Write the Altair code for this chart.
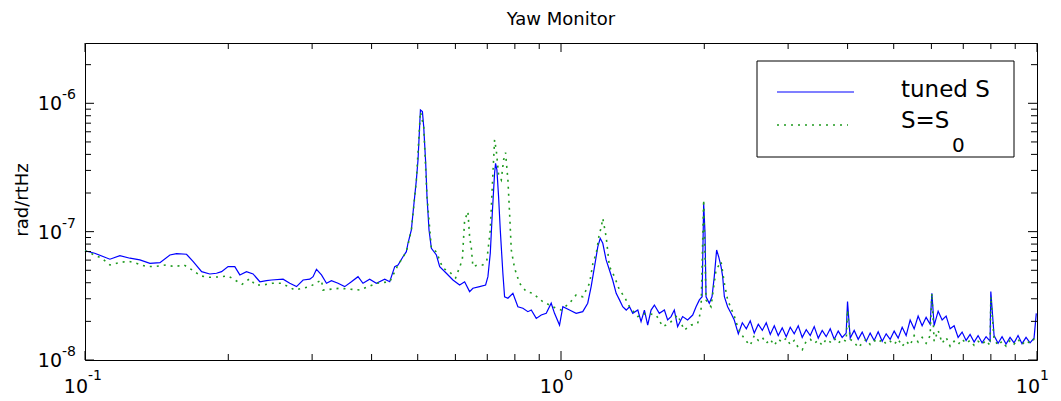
import altair as alt
import pandas as pd

# ---------------- data (values in units of 1e-8 rad/rtHz) ----------------
UNIT = 1e-8

blue_f = [0.1, 0.1048, 0.1128, 0.1184, 0.1243, 0.1304, 0.1369, 0.1437, 0.1508, 0.1557,
          0.1634, 0.1688, 0.1758, 0.1829, 0.1889, 0.1936, 0.1998, 0.2064, 0.2115, 0.2184,
          0.2255, 0.2330, 0.2406, 0.2465, 0.2607, 0.2693, 0.2782, 0.2872, 0.2967, 0.3014,
          0.3064, 0.3139, 0.3216, 0.3294, 0.3401, 0.3512, 0.3628, 0.3746, 0.3837, 0.3963,
          0.4094, 0.4262, 0.4367, 0.4474, 0.4546, 0.4656, 0.4733, 0.4770, 0.4849, 0.4887,
          0.4968, 0.5007, 0.5066, 0.5115, 0.5147, 0.5197, 0.5230, 0.5281, 0.5342, 0.5473,
          0.5561, 0.5743, 0.5929, 0.6124, 0.6274, 0.6427, 0.6530, 0.6745, 0.6944, 0.7022,
          0.7103, 0.7172, 0.7252, 0.7287, 0.7334, 0.7394, 0.7455, 0.7549, 0.7612, 0.7735,
          0.7924, 0.8118, 0.8317, 0.8520, 0.8661, 0.8872, 0.9089, 0.9311, 0.9537, 0.9692,
          0.9929, 1.009, 1.042, 1.076, 1.111, 1.138, 1.157, 1.176, 1.195, 1.209,
          1.224, 1.244, 1.264, 1.284, 1.306, 1.327, 1.348, 1.371, 1.393, 1.415,
          1.450, 1.473, 1.497, 1.521, 1.546, 1.571, 1.609, 1.649, 1.675, 1.703,
          1.730, 1.758, 1.801, 1.845, 1.891, 1.922, 1.953, 1.979, 1.994, 2.007,
          2.017, 2.049, 2.076, 2.099, 2.123, 2.144, 2.169, 2.186, 2.204, 2.239,
          2.276,
          2.312, 2.358, 2.404, 2.451, 2.498, 2.547, 2.597, 2.648, 2.699, 2.752,
          2.806, 2.860, 2.916, 2.973, 3.031, 3.090, 3.151, 3.212, 3.275, 3.339,
          3.404, 3.471, 3.538, 3.607, 3.678, 3.750, 3.823, 3.897, 3.973, 3.999,
          4.051, 4.130, 4.211, 4.293, 4.377, 4.462, 4.549, 4.638, 4.729, 4.821,
          4.915, 5.011, 5.109, 5.209, 5.310, 5.414, 5.520, 5.627, 5.737, 5.849,
          5.963, 6.014, 6.080, 6.199, 6.320, 6.443, 6.569, 6.697, 6.828, 6.961,
          7.097, 7.235, 7.377, 7.520, 7.667, 7.817, 7.970, 7.998, 8.125, 8.284,
          8.445, 8.610, 8.778, 8.950, 9.124, 9.302, 9.484, 9.669, 9.858, 9.966]

blue_v = [7.1, 6.79, 6.10, 6.50, 6.21, 6.02, 5.67, 5.73, 6.58, 6.74,
          6.67, 5.84, 4.88, 4.68, 4.74, 4.88, 5.34, 5.34, 4.60, 4.88,
          4.68, 4.07, 4.15, 4.20, 4.26, 3.96, 3.73, 4.20, 4.26, 4.46,
          5.09, 4.60, 3.96, 4.15, 3.96, 3.73, 4.07, 4.46, 3.96, 4.26,
          3.96, 4.26, 4.07, 5.34, 5.50, 6.38, 6.98, 8.12, 10.3, 13.9,
          25.3, 36.2, 88.8, 86.1, 65.8, 34.1, 18.7, 10.3, 7.42, 6.58,
          5.34, 4.74, 4.20, 3.84, 4.07, 3.41, 3.62, 3.73, 3.84, 4.46,
          6.79, 13.9, 28.5, 34.1, 30.3, 18.7, 10.3, 4.74, 3.11, 3.03,
          3.31, 2.60, 2.53, 2.38, 2.45, 2.11, 2.24, 2.31, 2.77, 2.31,
          1.87, 2.60, 2.45, 2.31, 2.38, 2.77, 3.73, 5.34, 7.64, 8.88,
          8.12, 6.02, 5.03, 4.20, 3.31, 2.94, 2.60, 2.45, 2.60, 2.31,
          2.45, 1.99, 2.45, 1.87, 2.45, 2.68, 2.31, 2.45, 2.05, 2.18,
          2.45, 1.82, 2.18, 2.05, 2.24, 2.60, 2.94, 3.11, 16.6, 9.72,
          3.11, 2.77, 3.11, 4.46, 7.20, 6.38, 5.34, 4.46, 3.11, 2.60,
          2.31,
          2.05, 1.60, 1.95, 1.75, 2.02, 1.62, 1.90, 1.70, 1.95, 1.58,
          1.85, 1.55, 1.78, 1.52, 1.80, 1.60, 1.85, 1.50, 1.72, 1.55,
          1.82, 1.48, 1.70, 1.52, 1.75, 1.45, 1.68, 1.50, 1.62, 2.85,
          1.48, 1.70, 1.45, 1.65, 1.40, 1.62, 1.42, 1.66, 1.40, 1.60,
          1.45, 1.68, 1.48, 1.80, 1.55, 2.05, 1.75, 2.20, 1.85, 2.15,
          1.90, 3.31, 1.85, 2.40, 2.05, 2.20, 1.75, 1.85, 1.50, 1.65,
          1.42, 1.58, 1.38, 1.55, 1.36, 1.52, 1.40, 3.41, 1.55, 1.35,
          1.52, 1.33, 1.50, 1.36, 1.55, 1.34, 1.50, 1.36, 1.48, 2.31]

green_f = [0.1, 0.1084, 0.1128, 0.1180, 0.1233, 0.1290, 0.1347, 0.1414, 0.1479, 0.1544,
           0.1615, 0.1688, 0.1749, 0.1829, 0.1913, 0.1998, 0.2138, 0.2219, 0.2281, 0.2367,
           0.2477, 0.2587, 0.2759, 0.2967, 0.3139, 0.3163, 0.3428, 0.3777, 0.4094, 0.4367,
           0.4546, 0.4733, 0.4849, 0.4968, 0.5066, 0.5147, 0.5230, 0.5342, 0.5473, 0.5644,
           0.5834, 0.6006, 0.6204, 0.6274, 0.6375, 0.6427, 0.6481, 0.6530, 0.6690, 0.6853,
           0.6987, 0.7103, 0.7183, 0.7252, 0.7311, 0.7394, 0.7491, 0.7575, 0.7648, 0.7735,
           0.7798, 0.7863, 0.7989, 0.8185, 0.8453, 0.8726, 0.9158, 0.9612, 1.001, 1.042,
           1.076, 1.111, 1.148, 1.167, 1.186, 1.201, 1.215, 1.224, 1.244, 1.264,
           1.295, 1.327, 1.359, 1.393, 1.450, 1.510, 1.585, 1.636, 1.689, 1.758,
           1.815, 1.876, 1.937, 1.969, 1.994, 2.017, 2.066, 2.117, 2.169, 2.204,
           2.239,
           2.312, 2.358, 2.404, 2.451, 2.498, 2.547, 2.597, 2.648, 2.699, 2.752,
           2.806, 2.860, 2.916, 2.973, 3.031, 3.090, 3.151, 3.212, 3.275, 3.339,
           3.404, 3.471, 3.538, 3.607, 3.678, 3.750, 3.823, 3.897, 3.973, 3.999,
           4.051, 4.130, 4.211, 4.293, 4.377, 4.462, 4.549, 4.638, 4.729, 4.821,
           4.915, 5.011, 5.109, 5.209, 5.310, 5.414, 5.520, 5.627, 5.737, 5.849,
           5.963, 6.014, 6.080, 6.199, 6.320, 6.443, 6.569, 6.697, 6.828, 6.961,
           7.097, 7.235, 7.377, 7.520, 7.667, 7.817, 7.970, 7.998, 8.125, 8.284,
           8.445, 8.610, 8.778, 8.950, 9.124, 9.302, 9.484, 9.669, 9.858, 9.966]

green_v = [7.1, 6.21, 5.50, 5.73, 5.88, 5.63, 5.34, 5.37, 5.50, 5.34,
           5.50, 4.97, 4.52, 4.41, 4.44, 4.52, 3.89, 4.30, 3.84, 3.84,
           3.96, 3.96, 3.51, 3.73, 4.20, 3.51, 3.62, 3.51, 3.96, 4.07,
           5.50, 6.98, 10.3, 25.3, 85.7, 65.8, 18.7, 7.42, 6.95, 5.21,
           4.85, 4.36, 6.02, 12.3, 14.3, 9.14, 7.42, 5.34, 5.50, 5.50,
           6.02, 10.3, 25.3, 51.9, 43.3, 27.7, 25.3, 36.2, 41.3, 25.3,
           13.9, 7.20, 5.18, 3.96, 3.41, 3.31, 2.85, 2.60, 2.45, 2.77,
           3.21, 3.11, 3.96, 5.67, 6.79, 9.14, 10.9, 12.7, 9.14, 5.34,
           4.46, 3.51, 3.11, 2.60, 2.18, 2.31, 2.24, 1.82, 1.93, 2.24,
           1.71, 1.87, 1.93, 2.45, 17.7, 2.94, 2.60, 5.03, 5.84, 3.96,
           2.94,
           2.20, 1.75, 1.55, 1.40, 1.30, 1.55, 1.42, 1.50, 1.35, 1.45,
           1.30, 1.45, 1.38, 1.48, 1.32, 1.42, 1.25, 1.20, 1.40, 1.45,
           1.35, 1.42, 1.30, 1.45, 1.38, 1.48, 1.35, 1.45, 1.40, 2.45,
           1.45, 1.38, 1.25, 1.35, 1.45, 1.32, 1.42, 1.36, 1.45, 1.33,
           1.40, 1.32, 1.45, 1.28, 1.40, 1.30, 1.55, 1.38, 1.50, 1.35,
           1.55, 3.31, 1.40, 1.70, 1.35, 1.50, 1.28, 1.40, 1.32, 1.45,
           1.35, 1.42, 1.30, 1.40, 1.33, 1.42, 1.30, 3.11, 1.45, 1.30,
           1.40, 1.28, 1.42, 1.33, 1.45, 1.32, 1.42, 1.35, 1.45, 1.43]

x_major = [0.1, 1, 10]
x_exp = ["-1", "0", "1"]
x_minor = [0.2, 0.3, 0.4, 0.5, 0.6, 0.7, 0.8, 0.9, 2, 3, 4, 5, 6, 7, 8, 9]
y_major = [1e-8, 1e-7, 1e-6]
y_exp = ["-8", "-7", "-6"]
y_minor = [2e-8, 3e-8, 4e-8, 5e-8, 6e-8, 7e-8, 8e-8, 9e-8,
           2e-7, 3e-7, 4e-7, 5e-7, 6e-7, 7e-7, 8e-7, 9e-7, 2e-6]

title_text = "Yaw Monitor"
y_title = "rad/rtHz"
legend_blue = "tuned S"
legend_green = "S=S"
legend_green_sub = "0"

# ---------------- styling ----------------
W, H = 952, 317
FONT = "DejaVu Sans"
BLUE = "#0000ff"
GREEN = "#1f9a1f"

blue = pd.DataFrame({"f": blue_f, "v": [v * UNIT for v in blue_v]})
green = pd.DataFrame({"f": green_f, "v": [v * UNIT for v in green_v]})

xs = alt.Scale(type="log", domain=[0.1, 10], nice=False)
ys = alt.Scale(type="log", domain=[1e-8, 2.95e-6], nice=False)
X = alt.X("f:Q", scale=xs, axis=None)
Y = alt.Y("v:Q", scale=ys, axis=None)

blue_line = alt.Chart(blue).mark_line(color=BLUE, strokeWidth=1.2).encode(x=X, y=Y)
green_line = alt.Chart(green).mark_line(
    color=GREEN, strokeWidth=1.6, strokeDash=[2, 5]).encode(x=X, y=Y)

xmaj = pd.DataFrame({"f": x_major, "e": x_exp})
xmin = pd.DataFrame({"f": x_minor})
ymaj = pd.DataFrame({"v": y_major, "e": y_exp})
ymin = pd.DataFrame({"v": y_minor})

def xticks(df, L):
    bot = alt.Chart(df).mark_rule(color="black", strokeWidth=1).encode(
        x=X, y=alt.value(H), y2=alt.value(H - L))
    top = alt.Chart(df).mark_rule(color="black", strokeWidth=1).encode(
        x=X, y=alt.value(0), y2=alt.value(L))
    return [bot, top]

def yticks(df, L):
    left = alt.Chart(df).mark_rule(color="black", strokeWidth=1).encode(
        y=Y, x=alt.value(0), x2=alt.value(L))
    right = alt.Chart(df).mark_rule(color="black", strokeWidth=1).encode(
        y=Y, x=alt.value(W), x2=alt.value(W - L))
    return [left, right]

ticks = xticks(xmaj, 9) + xticks(xmin, 6) + yticks(ymaj, 9) + yticks(ymin, 6)

x_lab10 = alt.Chart(xmaj).mark_text(
    text="10", align="right", baseline="alphabetic", dx=3, fontSize=19, font=FONT,
    color="black").encode(x=X, y=alt.value(H + 33))
x_labexp = alt.Chart(xmaj).mark_text(
    align="left", baseline="alphabetic", dx=3, fontSize=14, font=FONT,
    color="black").encode(x=X, y=alt.value(H + 20), text="e:N")
y_lab10 = alt.Chart(ymaj).mark_text(
    text="10", align="right", baseline="alphabetic", dy=7, fontSize=19, font=FONT,
    color="black").encode(y=Y, x=alt.value(-23))
y_labexp = alt.Chart(ymaj).mark_text(
    align="left", baseline="alphabetic", dy=-4, fontSize=14, font=FONT,
    color="black").encode(y=Y, x=alt.value(-23), text="e:N")

one = pd.DataFrame({"k": [0]})
title = alt.Chart(one).mark_text(
    text=title_text, align="center", baseline="alphabetic", fontSize=18, font=FONT,
    color="black").encode(x=alt.value(W / 2), y=alt.value(-18))
ytitle = alt.Chart(one).mark_text(
    text=y_title, angle=270, align="center", baseline="alphabetic", fontSize=18,
    font=FONT, color="black").encode(x=alt.value(-57), y=alt.value(157))

leg_box = alt.Chart(one).mark_rect(fill="white", stroke="black", strokeWidth=1).encode(
    x=alt.value(672), x2=alt.value(929), y=alt.value(18), y2=alt.value(114))
leg_blue = alt.Chart(one).mark_rule(color=BLUE, strokeWidth=1.2).encode(
    x=alt.value(692), x2=alt.value(769), y=alt.value(49))
leg_green = alt.Chart(one).mark_rule(color=GREEN, strokeWidth=1.6, strokeDash=[2, 5]).encode(
    x=alt.value(692), x2=alt.value(763), y=alt.value(82))
leg_t1 = alt.Chart(one).mark_text(
    text=legend_blue, align="left", baseline="alphabetic", fontSize=23, font=FONT,
    color="black").encode(x=alt.value(816), y=alt.value(54))
leg_t2 = alt.Chart(one).mark_text(
    text=legend_green, align="left", baseline="alphabetic", fontSize=23, font=FONT,
    color="black").encode(x=alt.value(816), y=alt.value(85))
leg_t3 = alt.Chart(one).mark_text(
    text=legend_green_sub, align="left", baseline="alphabetic", fontSize=20, font=FONT,
    color="black").encode(x=alt.value(867), y=alt.value(109))

chart = alt.layer(
    blue_line, green_line, *ticks,
    x_lab10, x_labexp, y_lab10, y_labexp, title, ytitle,
    leg_box, leg_blue, leg_green, leg_t1, leg_t2, leg_t3,
).properties(
    width=W, height=H,
    padding={"left": 77, "top": 35, "right": 16, "bottom": 40},
    autosize=alt.AutoSizeParams(type="none"),
    background="white",
).configure_view(stroke="black", strokeWidth=1)

chart.save("out.html", embed_options={"renderer": "svg", "actions": False})
